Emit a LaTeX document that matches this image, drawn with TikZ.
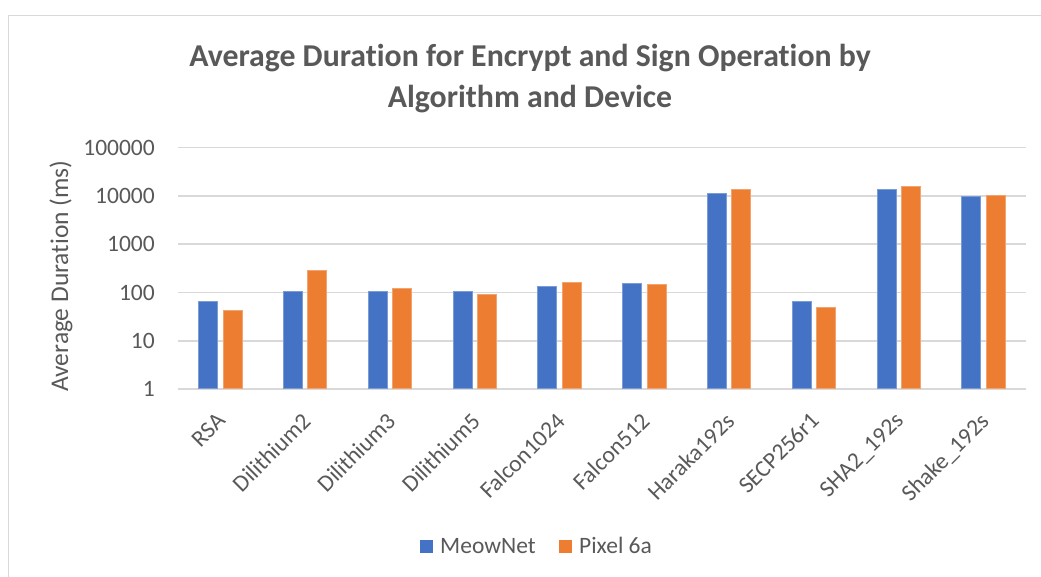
\documentclass[tikz,border=0pt]{standalone}
\usepackage{fontspec}
\setmainfont{Carlito}[Ligatures=NoCommon,Numbers={Monospaced,Lining}]
\definecolor{txt}{HTML}{595959}
\definecolor{gridc}{HTML}{D9D9D9}
\definecolor{framec}{HTML}{D9D9D9}
\definecolor{meow}{HTML}{4472C4}
\definecolor{pixel}{HTML}{ED7D31}
\begin{document}
\begin{tikzpicture}[x=1pt,y=-1pt,
  gridline/.style={gridc,line width=1.6pt},
  ticklabel/.style={text=txt,font=\fontsize{23.5}{28}\selectfont,anchor=east,inner sep=0pt},
  catlabel/.style={text=txt,font=\fontsize{23.5}{28}\selectfont,anchor=north east,rotate=45,inner sep=0pt},
  meowbar/.style={fill=meow,draw=meow!70!white,line width=0.6pt},
  pixelbar/.style={fill=pixel,draw=pixel!70!white,line width=0.6pt},
  titletext/.style={text=txt,font=\bfseries\fontsize{31.8}{38}\selectfont,anchor=base,inner sep=0pt},
  legendtext/.style={text=txt,font=\fontsize{23.5}{28}\selectfont,anchor=base west,inner sep=0pt}]
\useasboundingbox (0,0) rectangle (1041,576);
\fill[white] (0,0) rectangle (1041,576);
% chart frame
\draw[framec,line width=1.5pt] (8.5,600) |- (1060,15.5);
% title
\node[titletext] (title1) at (530,66.5) {Average Duration for Encrypt and Sign Operation by};
\node[titletext] (title2) at (530,107) {Algorithm and Device};
% axis title
\node[text=txt,font=\fontsize{25.5}{30}\selectfont,rotate=90,inner sep=0pt] (ytitle) at (61,276) {Average Duration (ms)};
% gridlines and tick labels (log scale, one decade = 48.27)
\foreach \lab [count=\k from 0] in {1,10,100,1000,10000,100000} {
  \draw[gridline] (178.3,{389-48.27*\k}) -- (1026,{389-48.27*\k});
  \node[ticklabel] (tick\k) at (155,{389-48.27*\k}) {\lab};
}
% bars
\foreach \name/\a/\b [count=\i from 0] in {
  RSA/67/43, Dilithium2/106/288, Dilithium3/104/120, Dilithium5/107/93,
  Falcon1024/134/162, Falcon512/152/147, Haraka192s/11500/13700,
  SECP256r1/66/49, SHA2\_192s/13700/15800, Shake\_192s/9960/10400} {
  \pgfmathsetmacro\cx{178.3+84.77*(\i+0.5)}
  \pgfmathsetmacro\ya{389-48.27*ln(\a)/ln(10)}
  \pgfmathsetmacro\yb{389-48.27*ln(\b)/ln(10)}
  \draw[meowbar] (\cx-22,388.2) rectangle (\cx-3,\ya);
  \draw[pixelbar] (\cx+2.3,388.2) rectangle (\cx+21.3,\yb);
  \node[catlabel] (cat\i) at (\cx-5,411) {\name};
}
% legend
\fill[meow] (420,540) rectangle (433,553);
\node[legendtext] (leg1) at (440,553) {MeowNet};
\fill[pixel] (559,540) rectangle (572,553);
\node[legendtext] (leg2) at (579,553) {Pixel 6a};
\end{tikzpicture}
\end{document}
